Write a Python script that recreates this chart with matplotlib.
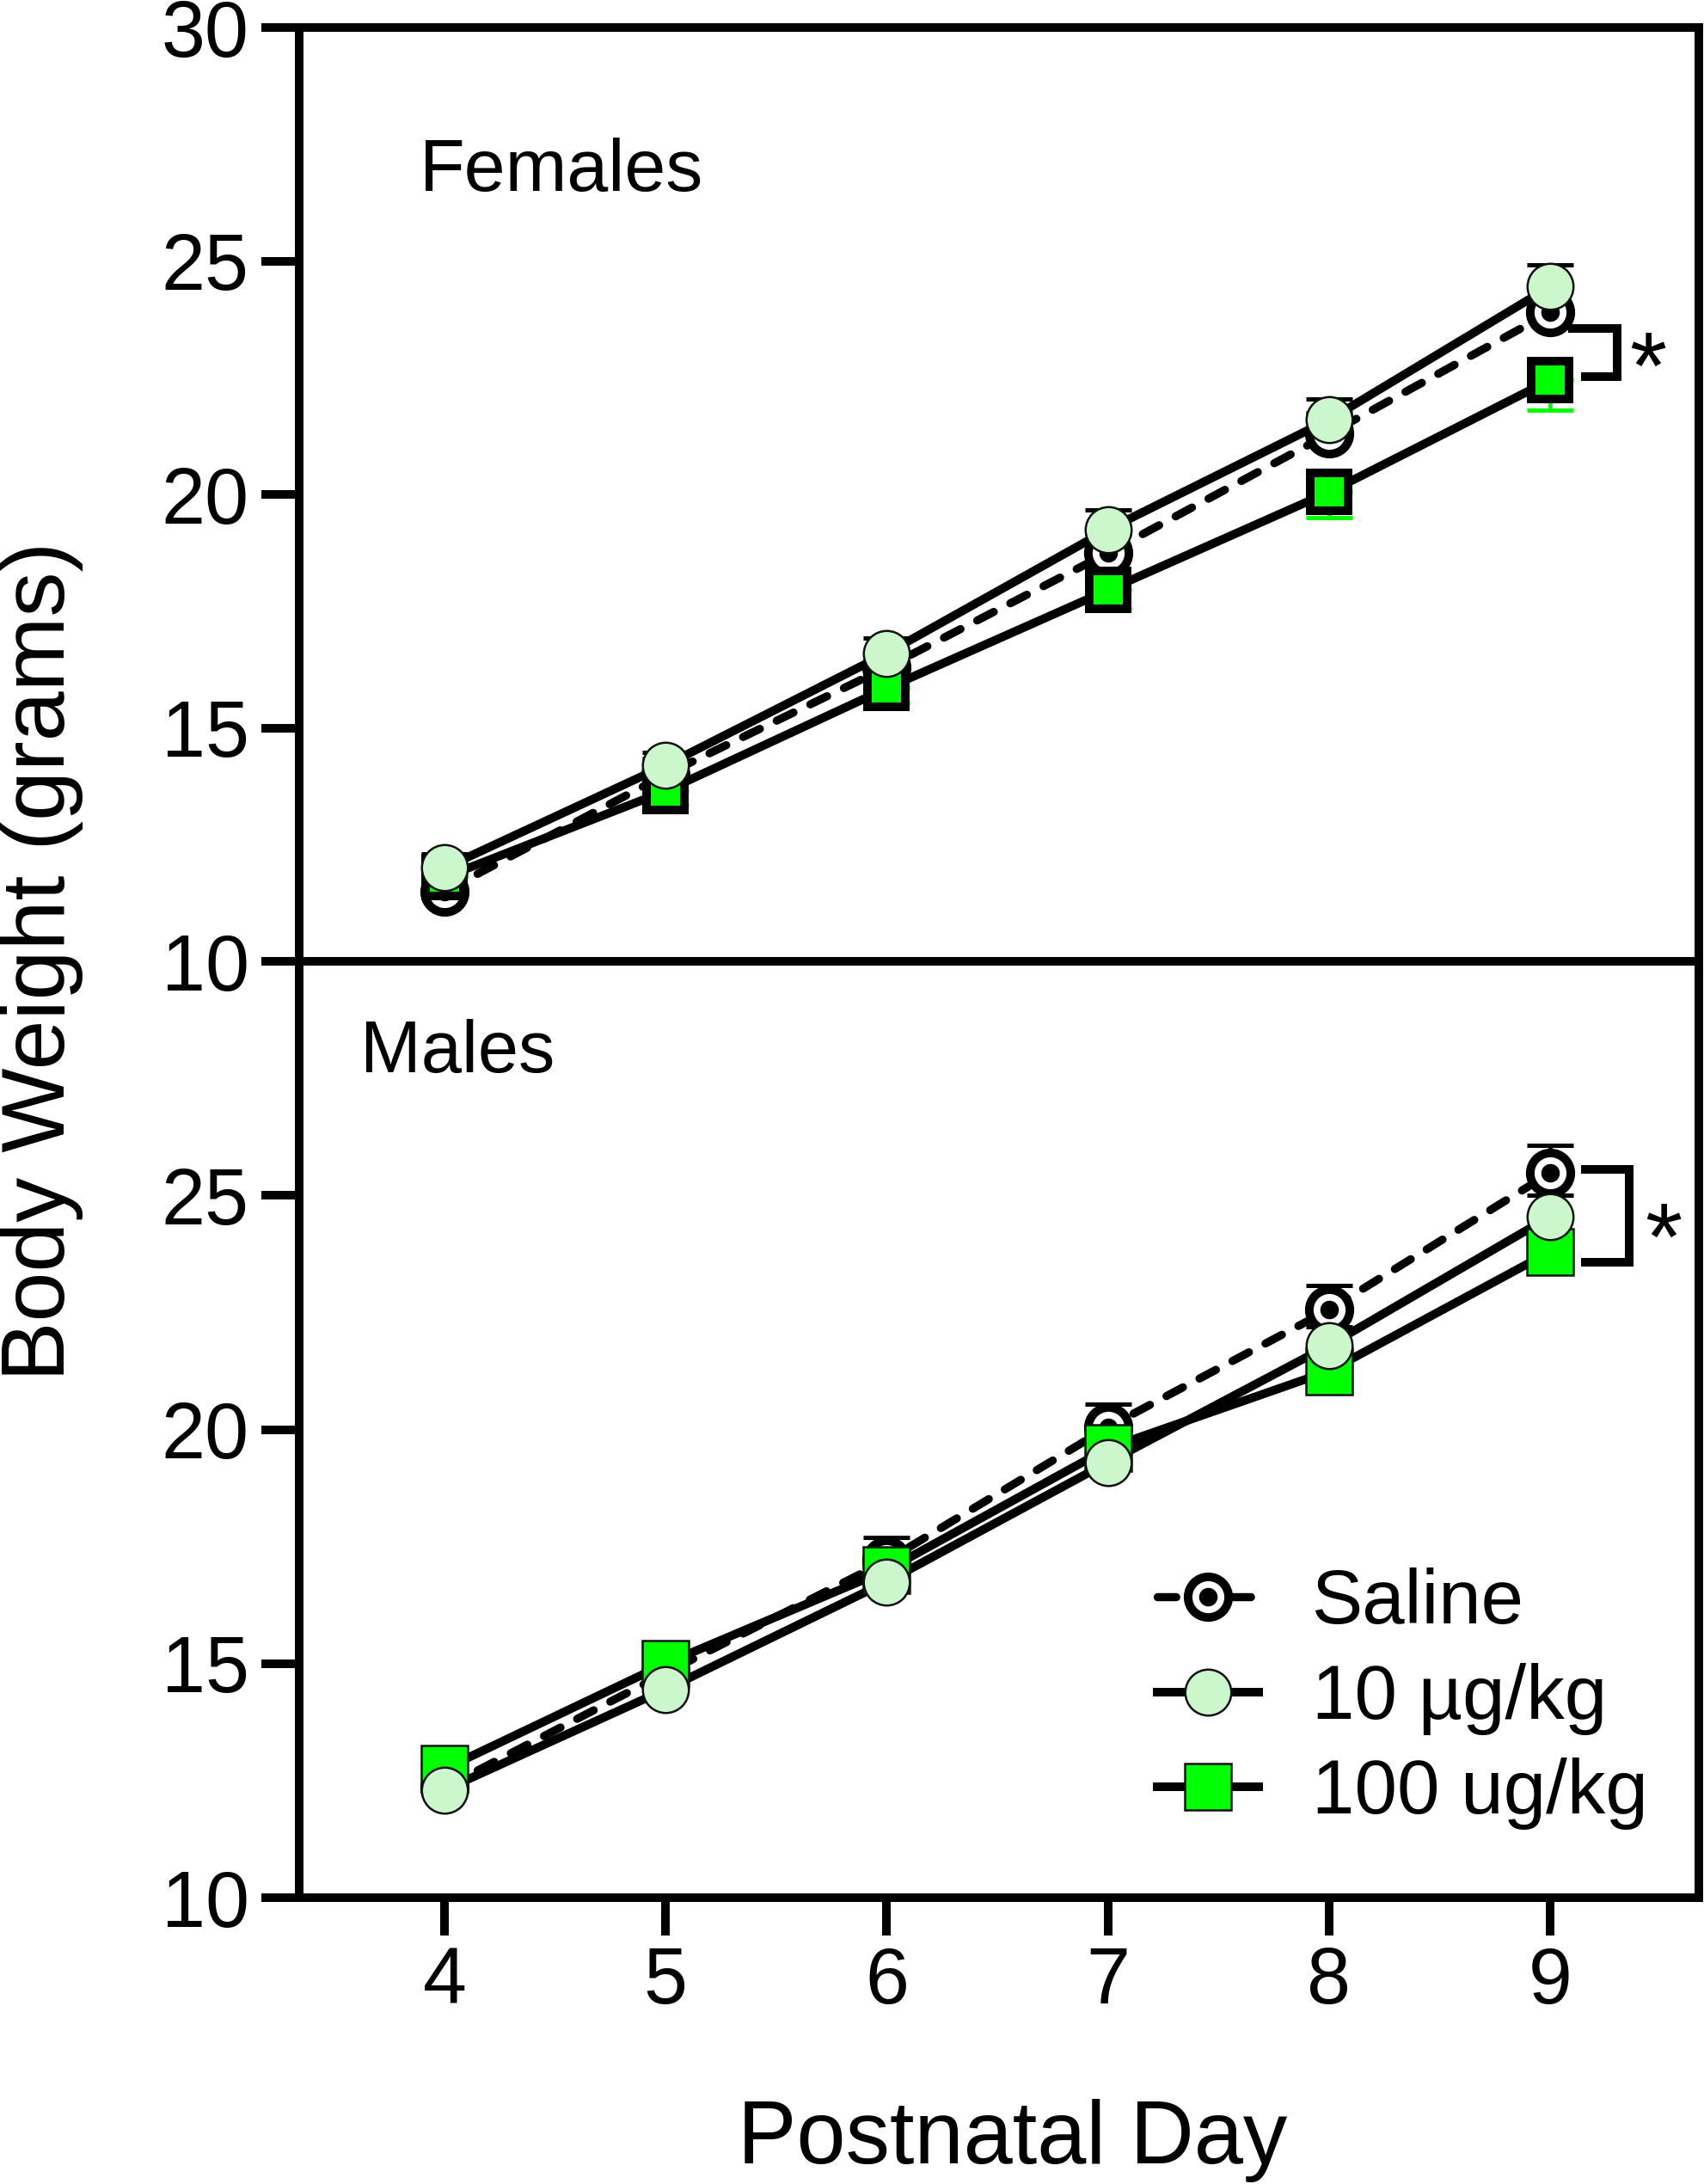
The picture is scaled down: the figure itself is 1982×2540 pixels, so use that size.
import numpy as np
import matplotlib
matplotlib.use("Agg")
import matplotlib.pyplot as plt
from matplotlib.lines import Line2D
from matplotlib.legend_handler import HandlerTuple

plt.rcParams['font.family'] = ['Liberation Sans', 'DejaVu Sans']

# ----------------------------
# DATA
# ----------------------------
days = [4, 5, 6, 7, 8, 9]

fem_saline = [11.5, 14.0, 16.3, 18.75, 21.3, 23.9]
fem_saline_sem = [0.35, 0.35, 0.35, 0.4, 0.45, 0.5]
fem_10 = [12.0, 14.2, 16.6, 19.25, 21.6, 24.45]
fem_10_sem = [0.3, 0.27, 0.33, 0.42, 0.45, 0.46]
fem_100 = [11.8, 13.65, 15.85, 17.95, 20.05, 22.45]
fem_100_sem = [0.3, 0.3, 0.3, 0.4, 0.55, 0.65]

male_saline = [12.35, 14.8, 17.2, 20.05, 22.56, 25.48]
male_saline_sem = [0.3, 0.4, 0.5, 0.5, 0.52, 0.6]
male_10 = [12.3, 14.45, 16.75, 19.3, 21.8, 24.55]
male_10_sem = [0.3, 0.3, 0.3, 0.35, 0.4, 0.45]
male_100 = [12.75, 15.0, 17.0, 19.6, 21.25, 23.8]
male_100_sem = [0.2, 0.2, 0.25, 0.25, 0.3, 0.3]

labels = ["Saline", "10 \u00b5g/kg", "100 ug/kg"]
light_green = "#CCF7CC"
green = "#00FF00"

# ----------------------------
# FIGURE
# ----------------------------
fig = plt.figure(figsize=(19.83, 25.40), dpi=100)
ax1 = fig.add_axes([0.1755, 0.5598, 0.8211, 0.4276])
ax2 = fig.add_axes([0.1755, 0.1311, 0.8211, 0.4287])

LW = 7.2
TICK_FS = 66
DASH = (0, (2.3, 2.3))


def draw_panel(ax, sal, sal_e, d10, d10_e, d100, d100_e, down100, thick_sq):
    z = np.zeros(len(days))
    # error bars (behind everything)
    ax.errorbar(days, sal, yerr=[z, sal_e], fmt='none', ecolor='black',
                elinewidth=3.5, capsize=19.5, capthick=3.6, zorder=1)
    ax.errorbar(days, d10, yerr=[z, d10_e], fmt='none', ecolor='black',
                elinewidth=3.5, capsize=19.5, capthick=3.6, zorder=1)
    e100 = [d100_e, z] if down100 else [z, d100_e]
    ax.errorbar(days, d100, yerr=e100, fmt='none', ecolor=green,
                elinewidth=3.5, capsize=19.5, capthick=3.6, zorder=1)

    # connecting lines
    ax.plot(days, d100, color='black', lw=LW, zorder=2)
    ax.plot(days, d10, color='black', lw=LW, zorder=2)
    ax.plot(days, sal, color='black', lw=6.8, ls=DASH,
            dash_capstyle='round', zorder=2)

    # markers
    ax.plot(days, sal, ls='none', marker='o', ms=34, mfc='white',
            mec='black', mew=LW, zorder=3)
    ax.plot(days, sal, ls='none', marker='o', ms=14.5, mfc='black',
            mec='black', zorder=3)
    if thick_sq:
        ax.plot(days, d100, ls='none', marker='s', ms=31, mfc=green,
                mec='black', mew=LW, zorder=4)
    else:
        ax.plot(days, d100, ls='none', marker='s', ms=38.5, mfc=green,
                mec='#111111', mew=1.8, zorder=4)
    ax.plot(days, d10, ls='none', marker='o', ms=38.5, mfc=light_green,
            mec='#111111', mew=1.8, zorder=5)

    ax.set_xlim(3.343, 9.673)
    ax.set_ylim(10, 30)
    for s in ax.spines.values():
        s.set_linewidth(LW)
    ax.tick_params(axis='both', width=LW, length=32, labelsize=TICK_FS,
                   direction='out')
    ax.tick_params(axis='y', pad=10)
    ax.tick_params(axis='x', pad=8)


draw_panel(ax1, fem_saline, fem_saline_sem, fem_10, fem_10_sem,
           fem_100, fem_100_sem, down100=True, thick_sq=True)
draw_panel(ax2, male_saline, male_saline_sem, male_10, male_10_sem,
           male_100, male_100_sem, down100=False, thick_sq=False)

ax1.set_yticks([10, 15, 20, 25, 30])
ax1.tick_params(axis='x', bottom=False, labelbottom=False)
ax2.set_yticks([10, 15, 20, 25])
ax2.set_xticks(days)

# panel titles
ax1.text(3.885, 26.5, "Females", fontsize=62, ha='left', va='baseline')
ax2.text(3.62, 27.63, "Males", fontsize=61, ha='left', va='baseline')

# significance brackets
ax1.plot([9.10, 9.303, 9.303, 9.16], [23.55, 23.55, 22.52, 22.52],
         color='black', lw=LW, solid_joinstyle='miter', zorder=6)
ax1.text(9.443, 22.05, "*", fontsize=80, ha='center', va='baseline')
ax2.plot([9.16, 9.357, 9.357, 9.16], [25.56, 25.56, 23.57, 23.57],
         color='black', lw=LW, solid_joinstyle='miter', zorder=6)
ax2.text(9.513, 23.41, "*", fontsize=80, ha='center', va='baseline')

# axis labels
fig.text(49 / 1983, 1 - 1118 / 2540, "Body Weight (grams)", rotation=90,
         fontsize=75, ha='center', va='center')
fig.text(1178 / 1983, 1 - 2490 / 2540, "Postnatal Day", fontsize=74,
         ha='center', va='center')

# legend
h_sal = (Line2D([], [], color='black', lw=6.8, ls=DASH,
                dash_capstyle='round', marker='o', ms=34, mfc='white',
                mec='black', mew=LW),
         Line2D([], [], ls='none', marker='o', ms=14.5, color='black'))
h_10 = Line2D([], [], color='black', lw=LW, marker='o', ms=38.5,
              mfc=light_green, mec='#111111', mew=1.8)
h_100 = Line2D([], [], color='black', lw=LW, marker='s', ms=38.5,
               mfc=green, mec='#111111', mew=1.8)
fig.legend([h_sal, h_10, h_100], labels, loc='upper left',
           bbox_to_anchor=(1346 / 1983, 1 - 1823 / 2540), frameon=False,
           fontsize=64, handlelength=1.33, handletextpad=0.7,
           labelspacing=0.3, borderpad=0, borderaxespad=0, numpoints=1,
           handler_map={tuple: HandlerTuple(ndivide=1)})

fig.savefig("out.png", dpi=100)
